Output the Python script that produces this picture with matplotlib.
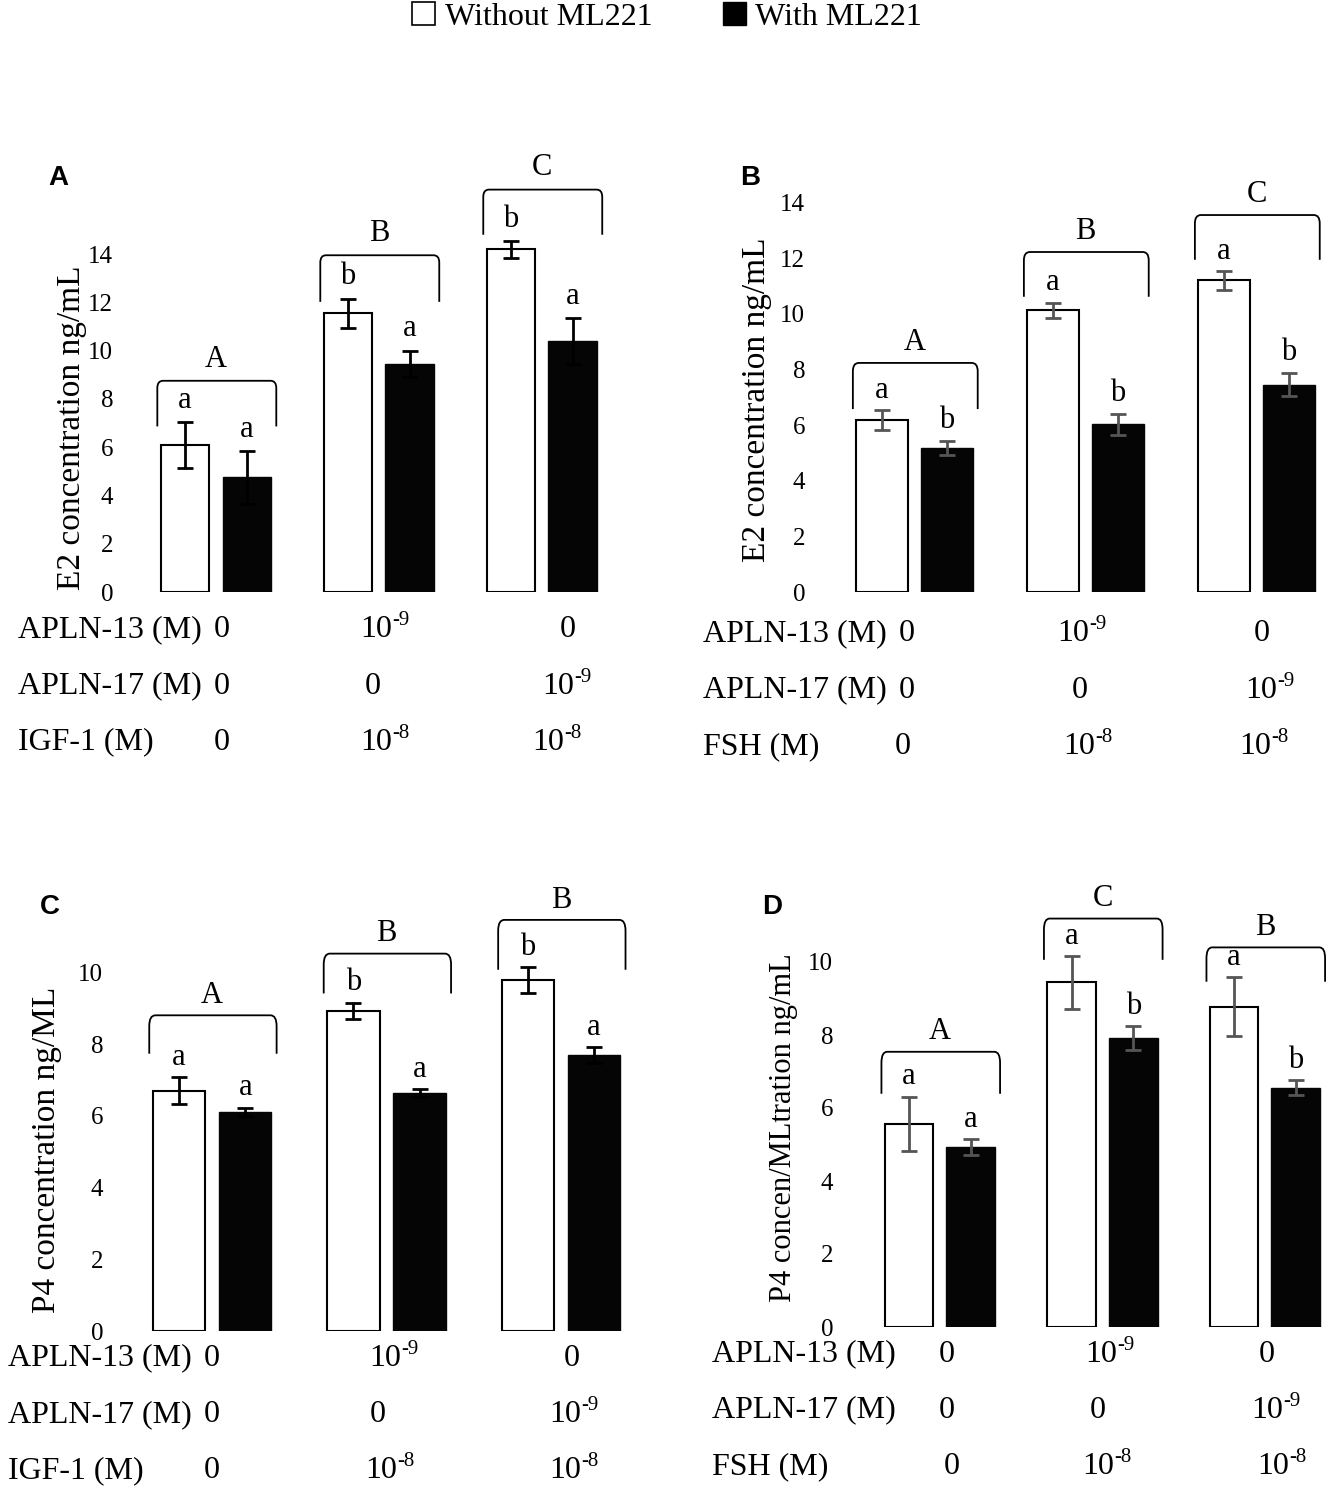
import numpy as np
import matplotlib.pyplot as plt
from matplotlib.patches import Patch
from matplotlib.path import Path
from matplotlib.patches import PathPatch
from matplotlib.transforms import offset_copy

plt.rcParams['font.family'] = ['Liberation Serif', 'DejaVu Serif']

W, H = 1338, 1492

# ---- data ----
# Panel A: E2 with IGF-1
a_without = [6.1, 11.55, 14.2]
a_without_err = [0.95, 0.6, 0.35]
a_with = [4.75, 9.45, 10.4]
a_with_err = [1.1, 0.55, 0.95]
a_letters_without = ['a', 'b', 'b']
a_letters_with = ['a', 'a', 'a']
a_groups = ['A', 'B', 'C']
a_bracket_top = [8.75, 13.95, 16.67]
a_bracket_leg = [6.86, 12.02, 14.8]

# Panel B: E2 with FSH
b_without = [6.18, 10.13, 11.21]
b_without_err = [0.35, 0.27, 0.33]
b_with = [5.18, 6.04, 7.46]
b_with_err = [0.25, 0.38, 0.42]
b_letters_without = ['a', 'a', 'a']
b_letters_with = ['b', 'b', 'b']
b_groups = ['A', 'B', 'C']
b_bracket_top = [8.24, 12.23, 13.56]
b_bracket_leg = [6.58, 10.62, 11.95]

# Panel C: P4 with IGF-1
c_without = [6.7, 8.93, 9.78]
c_without_err = [0.37, 0.22, 0.36]
c_with = [6.1, 6.63, 7.69]
c_with_err = [0.12, 0.11, 0.22]
c_letters_without = ['a', 'b', 'b']
c_letters_with = ['a', 'a', 'a']
c_groups = ['A', 'B', 'B']
c_bracket_top = [8.8, 10.52, 11.46]
c_bracket_leg = [7.73, 9.41, 10.07]

# Panel D: P4 with FSH
d_without = [5.56, 9.44, 8.78]
d_without_err = [0.75, 0.72, 0.8]
d_with = [4.93, 7.92, 6.56]
d_with_err = [0.22, 0.32, 0.2]
d_letters_without = ['a', 'a', 'a']
d_letters_with = ['a', 'b', 'b']
d_groups = ['A', 'C', 'B']
d_bracket_top = [7.54, 11.19, 10.4]
d_bracket_leg = [6.39, 10.06, 9.46]

treat_igf = ['APLN-13 (M)', 'APLN-17 (M)', 'IGF-1 (M)']
treat_fsh = ['APLN-13 (M)', 'APLN-17 (M)', 'FSH (M)']
# (base, exponent) for each treatment cell
treat_values = [[('0', ''), ('10', '-9'), ('0', '')],
                [('0', ''), ('0', ''), ('10', '-9')],
                [('0', ''), ('10', '-8'), ('10', '-8')]]

fig = plt.figure(figsize=(W / 100, H / 100), dpi=100)


def fx(px):
    return px / W


def fy(py):
    return 1 - py / H


def bracket(ax, x0, x1, top, leg, r=0.035, ry=0.3):
    verts = [(x0, leg), (x0, top - ry), (x0, top), (x0 + r, top),
             (x1 - r, top), (x1, top), (x1, top - ry), (x1, leg)]
    codes = [Path.MOVETO, Path.LINETO, Path.CURVE3, Path.CURVE3,
             Path.LINETO, Path.CURVE3, Path.CURVE3, Path.LINETO]
    ax.add_patch(PathPatch(Path(verts, codes), fill=False, lw=1.3,
                           edgecolor='black', clip_on=False))


def dose_text(xpx, ypx, base, exp):
    if not exp:
        fig.text(fx(xpx), fy(ypx), base, ha='center', va='center',
                 fontsize=23)
        return
    fig.text(fx(xpx + 9), fy(ypx), base, ha='right', va='center',
             fontsize=23)
    tr = offset_copy(fig.transFigure, fig=fig, x=0, y=9, units='dots')
    fig.text(fx(xpx + 9), fy(ypx), exp, ha='left', va='center',
             fontsize=15, transform=tr)


def panel(box, xlim, ylim, yticks, without, werr, with_, ierr, lw_letters,
          li_letters, groups, btop, bleg, errcolor, ylabel, ylab_xy, ylab_size,
          tag, tag_xy, treat, label_x, row_y, col_x, ystep):
    ax = fig.add_axes(box)
    x = np.arange(3)
    off, bw = 0.19, 0.30
    ax.bar(x - off, without, bw, color='white', edgecolor='black', lw=1.5,
           yerr=werr, error_kw=dict(ecolor=errcolor, elinewidth=2,
                                     capsize=6, capthick=2))
    ax.bar(x + off, with_, bw, color='#050505', edgecolor='#050505', lw=1,
           yerr=ierr, error_kw=dict(ecolor=errcolor, elinewidth=2,
                                     capsize=6, capthick=2))
    for i in range(3):
        ax.text(x[i] - off, without[i] + werr[i] + ystep, lw_letters[i],
                ha='center', va='bottom', fontsize=22)
        ax.text(x[i] + off, with_[i] + ierr[i] + ystep, li_letters[i],
                ha='center', va='bottom', fontsize=22)
        bracket(ax, x[i] - 0.36, x[i] + 0.37, btop[i], bleg[i])
        ax.text(x[i], btop[i] + ystep, groups[i], ha='center', va='bottom',
                fontsize=22)
    ax.set_xlim(*xlim)
    ax.set_ylim(*ylim)
    ax.set_yticks(yticks)
    ax.set_xticks([])
    for s in ax.spines.values():
        s.set_visible(False)
    ax.tick_params(axis='y', length=0, labelsize=18, pad=5)
    fig.text(fx(ylab_xy[0]), fy(ylab_xy[1]), ylabel, rotation=90,
             ha='center', va='center', fontsize=ylab_size)
    fig.text(fx(tag_xy[0]), fy(tag_xy[1]), tag, ha='left', va='center',
             fontsize=20, fontweight='bold', family='Liberation Sans')
    for r in range(3):
        fig.text(fx(label_x), fy(row_y[r]), treat[r], ha='left',
                 va='center', fontsize=23)
        for c in range(3):
            base, exp = treat_values[r][c]
            dose_text(col_x[r][c], row_y[r], base, exp)
    return ax


# Panel A
panel([fx(120), fy(592), fx(620) - fx(120), (592 - 157.5) / H],
      (-0.589, 2.479), (0, 18), range(0, 15, 2),
      a_without, a_without_err, a_with, a_with_err,
      a_letters_without, a_letters_with, a_groups, a_bracket_top,
      a_bracket_leg, 'black', 'E2 concentration ng/mL', (72, 428), 24, 'A',
      (48, 178), treat_igf, 18, [630, 686, 742],
      [[222, 383, 568], [222, 373, 565], [222, 383, 555]], 0.3)

# Panel B
panel([fx(812), fy(592), fx(1330) - fx(812), (592 - 175) / H],
      (-0.599, 2.430), (0, 15), range(0, 15, 2),
      b_without, b_without_err, b_with, b_with_err,
      b_letters_without, b_letters_with, b_groups, b_bracket_top,
      b_bracket_leg, '#555555', 'E2 concentration ng/mL', (757, 400), 24,
      'B', (740, 178), treat_fsh, 703, [634, 690, 747],
      [[907, 1080, 1262], [907, 1080, 1268], [903, 1086, 1262]], 0.2)

# Panel C
panel([fx(110), fy(1331), fx(640) - fx(110), (1331 - 879) / H],
      (-0.585, 2.453), (0, 12.6), range(0, 11, 2),
      c_without, c_without_err, c_with, c_with_err,
      c_letters_without, c_letters_with, c_groups, c_bracket_top,
      c_bracket_leg, 'black', 'P4 concentration ng/ML', (47, 1150), 24, 'C',
      (40, 907), treat_igf, 8, [1358, 1415, 1471],
      [[212, 392, 572], [212, 378, 572], [212, 388, 572]], 0.15)

# Panel D
panel([fx(840), fy(1327), fx(1335) - fx(840), (1327 - 889) / H],
      (-0.615, 2.431), (0, 12), range(0, 11, 2),
      d_without, d_without_err, d_with, d_with_err,
      d_letters_without, d_letters_with, d_groups, d_bracket_top,
      d_bracket_leg, '#555555', 'P4 concen/MLtration ng/mL', (783, 1128),
      22, 'D', (762, 907), treat_fsh, 712, [1354, 1410, 1467],
      [[947, 1108, 1267], [947, 1098, 1274], [952, 1105, 1280]], 0.15)

handles = [Patch(facecolor='white', edgecolor='black', lw=1.2),
           Patch(facecolor='black', edgecolor='black')]
fig.legend(handles, ['Without ML221', 'With ML221'], loc='center',
           bbox_to_anchor=(fx(667), fy(17)), ncol=2, frameon=False,
           fontsize=23, handlelength=0.72, handleheight=0.72,
           handletextpad=0.3, columnspacing=2.2, borderpad=0)

fig.savefig('out.png', dpi=100, facecolor='white')
